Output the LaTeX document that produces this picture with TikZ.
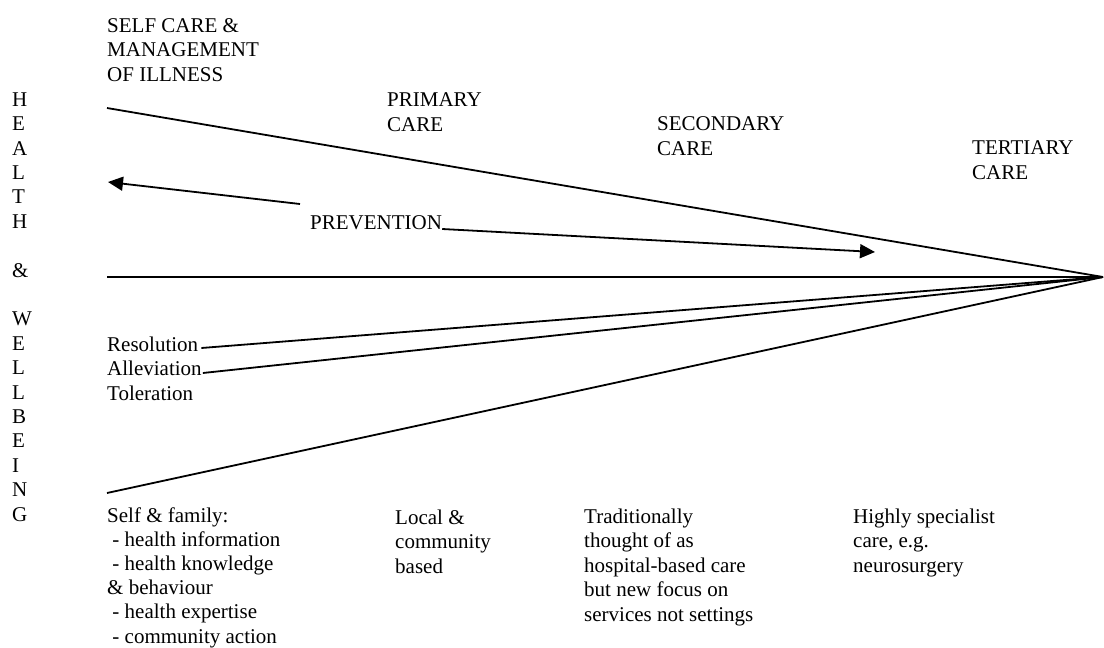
\documentclass[tikz,border=0pt]{standalone}
\usepackage{fontspec}
\setmainfont{Liberation Serif}
\usetikzlibrary{arrows.meta}
\tikzset{
  txt/.style={inner sep=0pt, anchor=base west, align=left, font=\fontsize{21}{24.5}\selectfont},
  ln/.style={line width=1.8pt, line cap=butt},
  arr/.style={ln, -{Triangle[length=15pt,width=14pt]}}
}
\begin{document}
\begin{tikzpicture}[x=1pt,y=-1pt]
\useasboundingbox[fill=white] (0,0) rectangle (1104,648);
% headings (positions give the baseline of the last line)
\node[txt] (selfcare) at (107,81) {SELF CARE \&\\MANAGEMENT\\OF ILLNESS};
\node[txt] (primary) at (387,131) {PRIMARY\\CARE};
\node[txt] (secondary) at (657,155) {SECONDARY\\CARE};
\node[txt] (tertiary) at (972,179) {TERTIARY\\CARE};
% vertical word
\node[txt, font=\fontsize{21}{24.4}\selectfont] (health) at (12,521) {H\\E\\A\\L\\T\\H\\\mbox{}\\\&\\\mbox{}\\W\\E\\L\\L\\B\\E\\I\\N\\G};
% middle labels
\node[txt] (prevention) at (310,229) {PREVENTION};
\node[txt] (resolution) at (107,351) {Resolution};
\node[txt] (alleviation) at (107,375) {Alleviation};
\node[txt] (toleration) at (107,400) {Toleration};
% bottom descriptions
\node[txt, font=\fontsize{21}{24.1}\selectfont] (selffamily) at (107,643) {Self \& family:\\\ - health information\\\ - health knowledge\\\& behaviour\\\ - health expertise\\\ - community action};
\node[txt] (local) at (395,573) {Local \&\\community\\based};
\node[txt] (secdesc) at (584,621) {Traditionally\\thought of as\\hospital-based care\\but new focus on\\services not settings};
\node[txt] (terdesc) at (853,572) {Highly specialist\\care, e.g.\\neurosurgery};
% coordinates
\coordinate (apex) at (1103,277);
\coordinate (topstart) at (107,108);
\coordinate (midstart) at (107,277);
\coordinate (botstart) at (107,493);
\coordinate (ptail) at (300,204);
\coordinate (pleft) at (108,182);
\coordinate (pright) at (875,252);
% lines
\draw[ln] (topstart) -- (apex);
\draw[ln] (midstart) -- (apex);
\draw[ln] (botstart) -- (apex);
\draw[ln] ([xshift=3pt,yshift=3pt]resolution.base east) -- (apex);
\draw[ln] ([xshift=1pt,yshift=2pt]alleviation.base east) -- (apex);
\draw[arr] (ptail) -- (pleft);
\draw[arr] (prevention.base east) -- (pright);
\end{tikzpicture}
\end{document}
